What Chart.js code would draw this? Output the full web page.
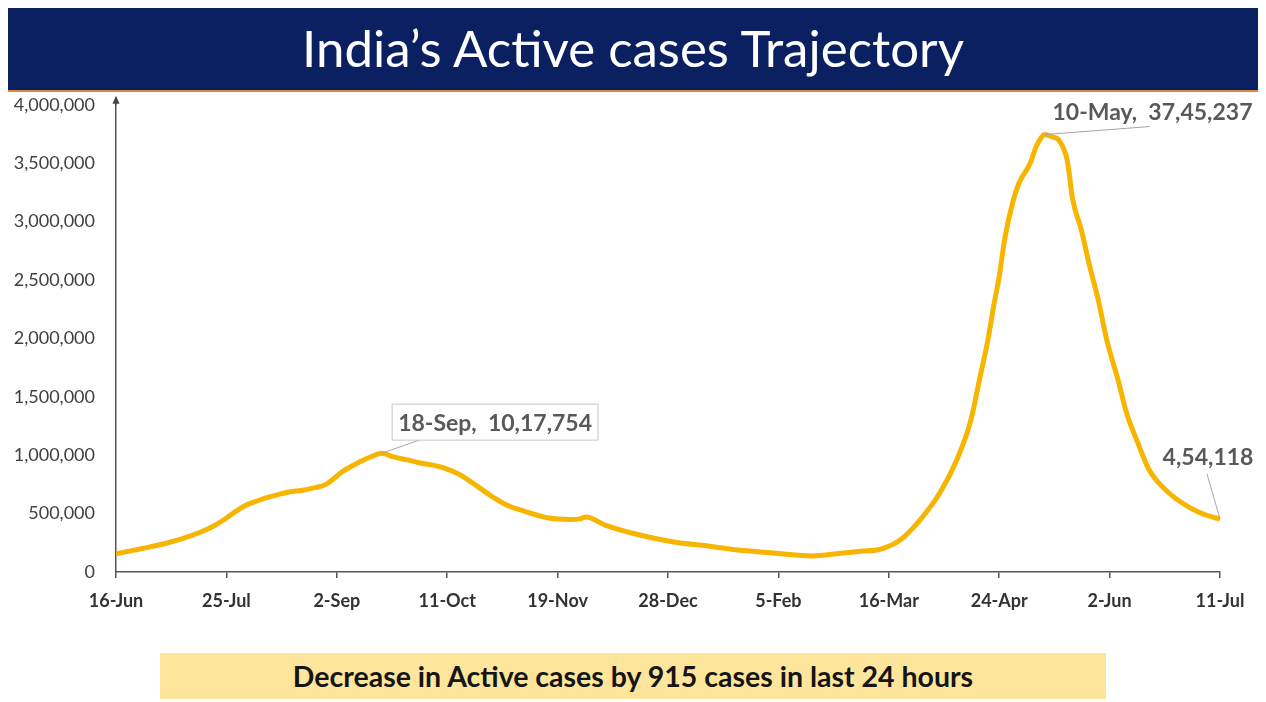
<!DOCTYPE html>
<html>
<head>
<meta charset="utf-8">
<script src="https://cdn.jsdelivr.net/npm/chart.js@4.4.0/dist/chart.umd.min.js"></script>
<style>
  html, body { margin: 0; padding: 0; background: #fff; }
  body { width: 1266px; height: 702px; position: relative; overflow: hidden; font-family: Lato, "Open Sans", sans-serif; }
  #banner {
    position: absolute; left: 8px; top: 8px; width: 1250px; height: 82px;
    background: #0b2060; border-bottom: 2px solid #e0854a;
    color: #fff; font-size: 51px; text-align: center; line-height: 80px;
  }
  #chartBox { position: absolute; left: 0; top: 81px; width: 1266px; height: 544px; }
  #note {
    position: absolute; left: 160px; top: 653px; width: 946px; height: 46px;
    background: #fde69c; color: #151515; font-weight: bold; font-size: 28.5px;
    text-align: center; line-height: 46px;
  }
</style>
</head>
<body>
<div id="banner">India’s Active cases Trajectory</div>
<div id="chartBox"><canvas id="activeChart"></canvas></div>
<div id="note">Decrease in Active cases by 915 cases in last 24 hours</div>
<script>
"use strict";

// x = days since 16-Jun-2020, y = active cases
var days = [0, 6, 12, 18, 24, 30, 35, 39, 43, 46, 50, 53, 57, 61, 66, 70, 74, 77, 80, 84, 88, 92, 94,
  98, 103, 107, 112, 116, 121, 126, 132, 138, 145, 153, 160, 164, 166, 173, 185, 197, 209, 220, 232,
  240, 246, 256, 263, 270, 277, 284, 291, 297, 302, 305, 308, 310, 312, 314, 317, 319, 323, 325,
  327, 328, 331, 333, 336, 338, 341, 344, 347, 350, 354, 357, 361, 365, 372, 379, 385, 390];
var activeCases = [155000, 185000, 215000, 248000, 290000, 342000, 400000, 462000, 530000, 574000,
  610000, 634000, 660000, 685000, 700000, 720000, 748000, 800000, 860000, 916000, 965000, 1005000, 1017754,
  985000, 960000, 935000, 915000, 890000, 840000, 762000, 660000, 574000, 515000, 462000, 450000, 455000,
  470000, 400000, 317000, 257000, 223000, 188000, 163000, 145000, 137000, 160000, 178000, 195000, 274000,
  445000, 676000, 959000, 1301000, 1644000, 1986000, 2270000, 2530000, 2860000, 3185000, 3331000,
  3502000, 3639000, 3724000, 3745237, 3724000, 3699000, 3527000, 3185000, 2930000, 2614000, 2329000,
  1986000, 1644000, 1361000, 1104000, 873000, 676000, 556000, 488000, 454118];

var tickDays = [0, 39, 78, 117, 156, 195, 234, 273, 312, 351, 390];
var tickLabels = ['16-Jun', '25-Jul', '2-Sep', '11-Oct', '19-Nov', '28-Dec', '5-Feb', '16-Mar', '24-Apr', '2-Jun', '11-Jul'];

var calloutDays = [94, 328, 390];
var calloutValues = [1017754, 3745237, 454118];
var calloutLabels = ['18-Sep,  10,17,754', '10-May,  37,45,237', '4,54,118'];

var points = days.map(function (d, i) { return { x: d, y: activeCases[i] }; });

// arrow on y axis + callouts
var extras = {
  id: 'extras',
  afterDraw: function (chart) {
    var ctx = chart.ctx;
    var area = chart.chartArea;
    var xs = chart.scales.x, ys = chart.scales.y;
    ctx.save();
    ctx.strokeStyle = '#444';
    ctx.fillStyle = '#444';
    ctx.lineWidth = 1.5;
    ctx.beginPath();
    ctx.moveTo(area.left, area.top);
    ctx.lineTo(area.left, area.top - 4);
    ctx.stroke();
    ctx.beginPath();
    ctx.moveTo(area.left, area.top - 9);
    ctx.lineTo(area.left - 3.5, area.top - 1);
    ctx.lineTo(area.left + 3.5, area.top - 1);
    ctx.closePath();
    ctx.fill();

    // offsets: [textCenterDx, textCenterDy, lineStartDx, lineStartDy, box]
    var layout = [
      [113, -31, 40, -14, true],
      [108, -23, 105, -8, false],
      [-12, -62, -13, -45, false]
    ];
    ctx.font = 'bold 23px Lato, sans-serif';
    ctx.textAlign = 'center';
    ctx.textBaseline = 'middle';
    calloutDays.forEach(function (d, i) {
      var px = xs.getPixelForValue(d);
      var py = ys.getPixelForValue(calloutValues[i]);
      var l = layout[i];
      var tx = px + l[0], ty = py + l[1];
      ctx.strokeStyle = '#a6a6a6';
      ctx.lineWidth = 1;
      ctx.beginPath();
      ctx.moveTo(px + l[2], py + l[3]);
      ctx.lineTo(px, py);
      ctx.stroke();
      if (l[4]) {
        var w = ctx.measureText(calloutLabels[i]).width + 12;
        ctx.fillStyle = '#fff';
        ctx.fillRect(tx - w / 2, ty - 18, w, 36);
        ctx.strokeStyle = '#c8c8c8';
        ctx.strokeRect(tx - w / 2, ty - 18, w, 36);
      }
      ctx.fillStyle = '#595959';
      ctx.fillText(calloutLabels[i], tx, ty + 1);
    });
    ctx.restore();
  }
};

new Chart(document.getElementById('activeChart'), {
  type: 'line',
  data: {
    datasets: [{
      label: 'Active cases',
      data: points,
      borderColor: '#f7b500',
      borderWidth: 5,
      pointRadius: 0,
      cubicInterpolationMode: 'monotone',
      fill: false
    }]
  },
  options: {
    responsive: true,
    maintainAspectRatio: false,
    animation: false,
    layout: { padding: { top: 10, right: 46, bottom: 0, left: 0 } },
    plugins: {
      legend: { display: false },
      tooltip: { enabled: false }
    },
    scales: {
      x: {
        type: 'linear',
        min: 0,
        max: 390,
        afterBuildTicks: function (scale) {
          scale.ticks = tickDays.map(function (v) { return { value: v }; });
        },
        afterFit: function (scale) { scale.height = 53; },
        grid: { drawOnChartArea: false, drawTicks: true, tickLength: 6, color: '#555', lineWidth: 1.5 },
        border: { display: true, color: '#555', width: 1.5 },
        ticks: {
          autoSkip: false,
          maxRotation: 0,
          padding: 12,
          color: '#333',
          font: { family: 'Lato', size: 18, weight: 'bold' },
          callback: function (v) {
            var i = tickDays.indexOf(v);
            return i >= 0 ? tickLabels[i] : '';
          }
        }
      },
      y: {
        min: 0,
        max: 4000000,
        afterFit: function (scale) { scale.width = 116; },
        grid: { display: false },
        border: { display: true, color: '#555', width: 1.5 },
        ticks: {
          stepSize: 500000,
          padding: 13,
          color: '#404040',
          font: { family: 'Lato', size: 18 },
          callback: function (v) { return v.toLocaleString('en-US'); }
        }
      }
    }
  },
  plugins: [extras]
});
</script>
</body>
</html>
